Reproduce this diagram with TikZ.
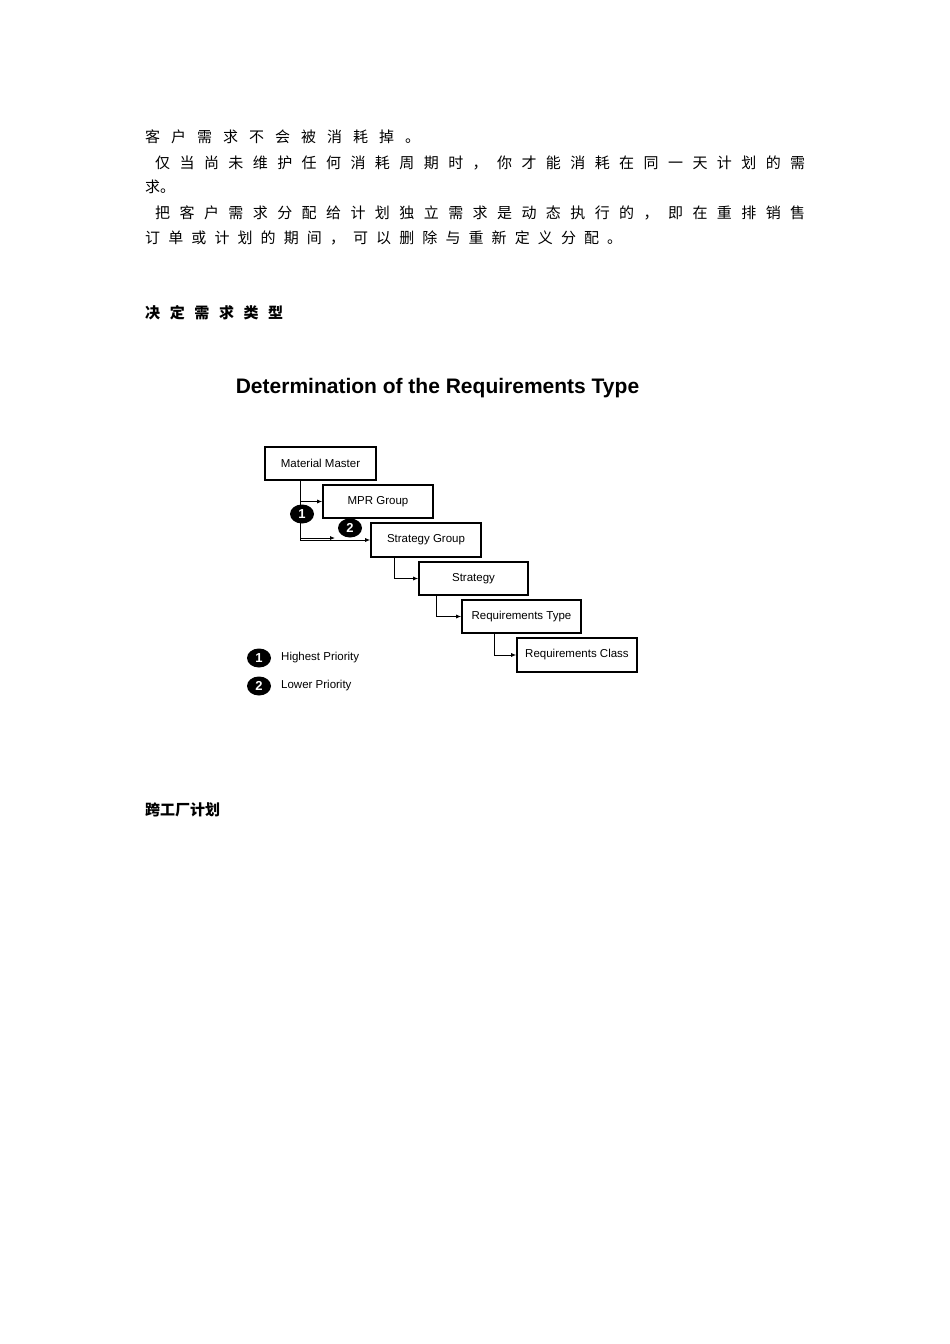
\documentclass[tikz,border=0pt]{standalone}
\usepackage{fontspec}
\setmainfont{Liberation Sans}
\newfontfamily\cjk{Noto Sans CJK SC}
\usetikzlibrary{arrows.meta}
\newcommand{\sline}[2]{\makebox[#1][s]{#2}}
\begin{document}
\begin{tikzpicture}[x=1pt,y=-1pt,
  txt/.style={anchor=west,inner sep=0pt,font=\cjk\fontsize{15}{18}\selectfont},
  box/.style={draw,line width=1.6pt,inner sep=0pt,font=\fontsize{11.5}{13}\selectfont},
  conn/.style={line width=0.8pt,-{Latex[length=5pt,width=4pt]}},
  badge/.style={ellipse,fill=black,text=white,inner sep=0pt,minimum width=24pt,minimum height=19pt,font=\bfseries\fontsize{13}{13}\selectfont},
  leg/.style={anchor=west,inner sep=0pt,font=\fontsize{11.5}{13}\selectfont}]
\useasboundingbox[fill=white] (0,0) rectangle (950,1344);
\usetikzlibrary{shapes.geometric}
\node[txt] (l1) at (145,137) {\sline{275pt}{客 户 需 求 不 会 被 消 耗 掉 。}};
\node[txt] (l2) at (155,163) {\sline{650pt}{仅 当 尚 未 维 护 任 何 消 耗 周 期 时 ， 你 才 能 消 耗 在 同 一 天 计 划 的 需}};
\node[txt] (l3) at (145,187) {求。};
\node[txt] (l4) at (155,213) {\sline{650pt}{把 客 户 需 求 分 配 给 计 划 独 立 需 求 是 动 态 执 行 的 ， 即 在 重 排 销 售}};
\node[txt] (l5) at (145,238) {\sline{477pt}{订 单 或 计 划 的 期 间 ， 可 以 删 除 与 重 新 定 义 分 配 。}};
\node[txt,font=\cjk\bfseries\fontsize{15}{18}\selectfont] (h1) at (145,313) {\sline{138pt}{决 定 需 求 类 型}};
\node[txt,font=\cjk\bfseries\fontsize{15}{18}\selectfont] (h2) at (145,810) {跨工厂计划};
\node[inner sep=0pt,font=\bfseries\fontsize{21}{24}\selectfont] (title) at (437.5,388) {Determination of the Requirements Type};
\node[box,minimum width=111pt,minimum height=33pt] (mm) at (320.5,463.5) {Material Master};
\node[box,minimum width=110pt,minimum height=33pt] (mpr) at (378,501.5) {MPR Group};
\node[box,minimum width=110pt,minimum height=34pt] (sg) at (426,540) {Strategy Group};
\node[box,minimum width=109pt,minimum height=33pt] (st) at (473.5,578.5) {Strategy};
\node[box,minimum width=119pt,minimum height=33pt] (rt) at (521.5,616.5) {Requirements Type};
\node[box,minimum width=120pt,minimum height=34pt] (rc) at (577,655) {Requirements Class};
\coordinate (a) at (300,480);
\draw[conn] (a) |- (mpr.west);
\draw[conn] (a) |- (sg.west);
\draw[conn] (300,538) -- (335,538);
\draw[conn] (sg.south west) ++(24,0) |- (st.west);
\draw[conn] (st.south west) ++(18,0) |- (rt.west);
\draw[conn] (rt.south west) ++(33,0) |- (rc.west);
\node[badge] (b1) at (302,514) {1};
\node[badge] (b2) at (350,528) {2};
\node[badge] (lb1) at (259,658) {1};
\node[badge] (lb2) at (259,686) {2};
\node[leg] (lt1) at (281,658) {Highest Priority};
\node[leg] (lt2) at (281,686) {Lower Priority};
\end{tikzpicture}
\end{document}
